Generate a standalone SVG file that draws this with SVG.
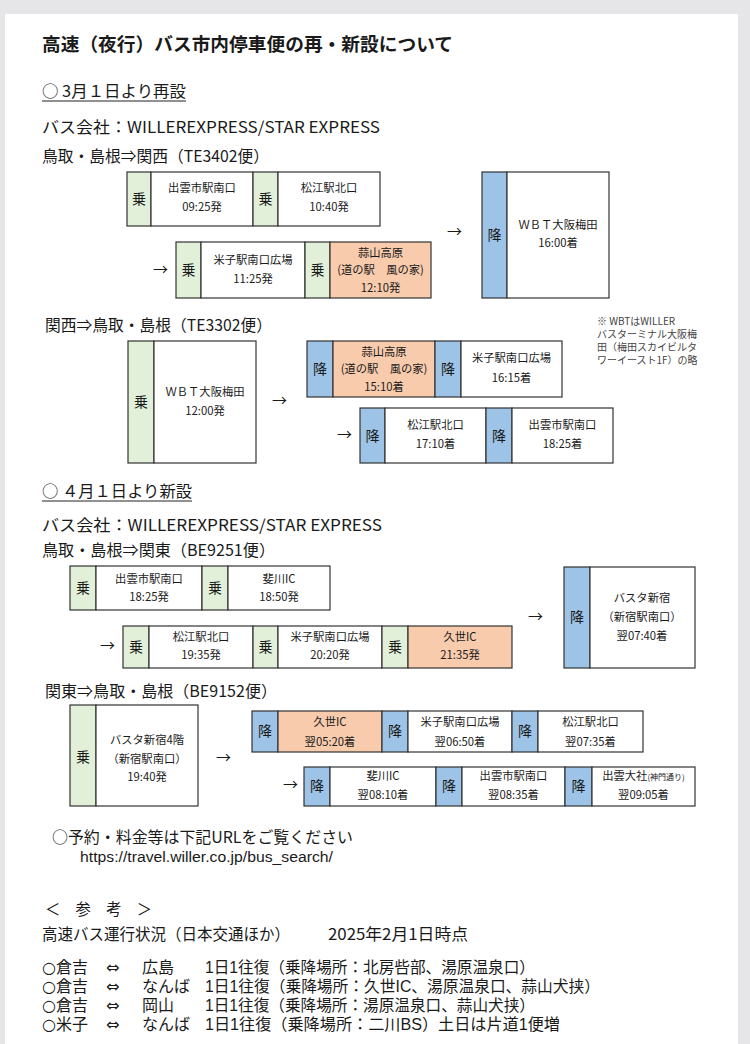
<svg xmlns="http://www.w3.org/2000/svg" width="750" height="1044" viewBox="0 0 750 1044">
<style>
text{font-family:"Noto Sans CJK JP","Noto Sans",sans-serif;fill:#1a1a1a}
.h{font-size:18.5px;font-weight:bold}
.m{font-size:16px}
.f{font-size:16px}
.r{font-family:"Liberation Sans","Noto Sans CJK JP",sans-serif;font-size:16px}
.d{font-family:"DejaVu Sans",sans-serif}
.b{font-size:11.3px;text-anchor:middle}
.k{font-size:14px;text-anchor:middle}
.n{font-size:10px;fill:#444}
.a{font-size:15px}
.u{font-family:"Liberation Sans",sans-serif;font-size:14px}
rect.s{stroke:#333;stroke-width:1.2}
.w{fill:#fff}
.g{fill:#E2F0D9}
.bl{fill:#9DC3E6}
.o{fill:#F8CBAD}
</style>
<rect width="750" height="1044" fill="#e6e6e8"/>
<rect x="5" y="14" width="733" height="1030" fill="#fff"/>

<g id="headings">
<text x="42" y="51" class="h" textLength="411" lengthAdjust="spacingAndGlyphs">高速（夜行）バス市内停車便の再・新設について</text>
<text x="42" y="97" class="m" textLength="144" lengthAdjust="spacingAndGlyphs">○ 3月１日より再設</text>
<line x1="42" y1="101" x2="186" y2="101" stroke="#222" stroke-width="1"/>
<text x="42" y="133" class="m" textLength="338" lengthAdjust="spacingAndGlyphs">バス会社：WILLEREXPRESS/STAR EXPRESS</text>
<text x="42" y="162" class="m" textLength="227" lengthAdjust="spacingAndGlyphs">鳥取・島根⇒関西（TE3402便）</text>
<text x="45" y="331" class="m" textLength="227" lengthAdjust="spacingAndGlyphs">関西⇒鳥取・島根（TE3302便）</text>
<text class="n"><tspan x="597" y="325">※ WBTはWILLER</tspan><tspan x="597" y="338">バスターミナル大阪梅</tspan><tspan x="597" y="351">田（梅田スカイビルタ</tspan><tspan x="597" y="364">ワーイースト1F）の略</tspan></text>
<text x="42" y="497" class="m" textLength="150" lengthAdjust="spacingAndGlyphs">○ ４月１日より新設</text>
<line x1="42" y1="501" x2="192" y2="501" stroke="#222" stroke-width="1"/>
<text x="42" y="531" class="m" textLength="340" lengthAdjust="spacingAndGlyphs">バス会社：WILLEREXPRESS/STAR EXPRESS</text>
<text x="42" y="556" class="m" textLength="233" lengthAdjust="spacingAndGlyphs">鳥取・島根⇒関東（BE9251便）</text>
<text x="45" y="697" class="m" textLength="232" lengthAdjust="spacingAndGlyphs">関東⇒鳥取・島根（BE9152便）</text>
</g>

<g id="connectors">
<text x="153" y="275" class="a">→</text>
<text x="447" y="237" class="a">→</text>
<text x="272" y="406" class="a">→</text>
<text x="337" y="440" class="a">→</text>
<text x="100" y="651" class="a">→</text>
<text x="528" y="622" class="a">→</text>
<text x="216" y="763" class="a">→</text>
<text x="283" y="790" class="a">→</text>
</g>

<g id="box-te3402-1">
<rect class="s g" x="127" y="172" width="24" height="54"/>
<rect class="s w" x="151" y="172" width="102" height="54"/>
<rect class="s g" x="253" y="172" width="25" height="54"/>
<rect class="s w" x="278" y="172" width="102" height="54"/>
<text class="k" x="139" y="204">乗</text>
<text class="b" x="202" y="192">出雲市駅南口</text><text class="b" x="202" y="211">09:25発</text>
<text class="k" x="265.5" y="204">乗</text>
<text class="b" x="329" y="192">松江駅北口</text><text class="b" x="329" y="211">10:40発</text>
</g>

<g id="box-te3402-2">
<rect class="s g" x="176" y="242" width="25" height="56"/>
<rect class="s w" x="201" y="242" width="104" height="56"/>
<rect class="s g" x="305" y="242" width="25" height="56"/>
<rect class="s o" x="330" y="242" width="101" height="56"/>
<text class="k" x="188.5" y="275">乗</text>
<text class="b" x="253" y="264">米子駅南口広場</text><text class="b" x="253" y="283">11:25発</text>
<text class="k" x="317.5" y="275">乗</text>
<text class="b" x="380.5" y="257">蒜山高原</text><text class="b" x="380.5" y="274">(道の駅　風の家)</text><text class="b" x="380.5" y="292">12:10発</text>
</g>

<g id="box-te3402-3">
<rect class="s bl" x="482" y="172" width="25" height="126"/>
<rect class="s w" x="507" y="172" width="102" height="126"/>
<text class="k" x="494.5" y="240">降</text>
<text class="b" x="558" y="229">ＷＢＴ大阪梅田</text><text class="b" x="558" y="247">16:00着</text>
</g>

<g id="box-te3302-1">
<rect class="s g" x="128" y="341" width="26" height="122"/>
<rect class="s w" x="154" y="341" width="102" height="122"/>
<text class="k" x="141" y="407">乗</text>
<text class="b" x="205" y="396">ＷＢＴ大阪梅田</text><text class="b" x="205" y="415">12:00発</text>
</g>

<g id="box-te3302-2">
<rect class="s bl" x="307" y="341" width="26" height="56"/>
<rect class="s o" x="333" y="341" width="102" height="56"/>
<rect class="s bl" x="435" y="341" width="26" height="56"/>
<rect class="s w" x="461" y="341" width="101" height="56"/>
<text class="k" x="320" y="374">降</text>
<text class="b" x="384" y="356">蒜山高原</text><text class="b" x="384" y="373">(道の駅　風の家)</text><text class="b" x="384" y="391">15:10着</text>
<text class="k" x="448" y="374">降</text>
<text class="b" x="511.5" y="362">米子駅南口広場</text><text class="b" x="511.5" y="382">16:15着</text>
</g>

<g id="box-te3302-3">
<rect class="s bl" x="360" y="408" width="25" height="55"/>
<rect class="s w" x="385" y="408" width="101" height="55"/>
<rect class="s bl" x="486" y="408" width="26" height="55"/>
<rect class="s w" x="512" y="408" width="101" height="55"/>
<text class="k" x="372.5" y="441">降</text>
<text class="b" x="435.5" y="429">松江駅北口</text><text class="b" x="435.5" y="448">17:10着</text>
<text class="k" x="499" y="441">降</text>
<text class="b" x="562.5" y="429">出雲市駅南口</text><text class="b" x="562.5" y="448">18:25着</text>
</g>

<g id="box-be9251-1">
<rect class="s g" x="70" y="566" width="26" height="44"/>
<rect class="s w" x="96" y="566" width="106" height="44"/>
<rect class="s g" x="202" y="566" width="26" height="44"/>
<rect class="s w" x="228" y="566" width="102" height="44"/>
<text class="k" x="83" y="593">乗</text>
<text class="b" x="149" y="583">出雲市駅南口</text><text class="b" x="149" y="601">18:25発</text>
<text class="k" x="215" y="593">乗</text>
<text class="b" x="279" y="583">斐川IC</text><text class="b" x="279" y="601">18:50発</text>
</g>

<g id="box-be9251-2">
<rect class="s g" x="123" y="626" width="26" height="42"/>
<rect class="s w" x="149" y="626" width="104" height="42"/>
<rect class="s g" x="253" y="626" width="25" height="42"/>
<rect class="s w" x="278" y="626" width="104" height="42"/>
<rect class="s g" x="382" y="626" width="26" height="42"/>
<rect class="s o" x="408" y="626" width="104" height="42"/>
<text class="k" x="136" y="652">乗</text>
<text class="b" x="201" y="641">松江駅北口</text><text class="b" x="201" y="659">19:35発</text>
<text class="k" x="265.5" y="652">乗</text>
<text class="b" x="330" y="641">米子駅南口広場</text><text class="b" x="330" y="659">20:20発</text>
<text class="k" x="395" y="652">乗</text>
<text class="b" x="460" y="641">久世IC</text><text class="b" x="460" y="659">21:35発</text>
</g>

<g id="box-be9251-3">
<rect class="s bl" x="564" y="567" width="26" height="101"/>
<rect class="s w" x="590" y="567" width="105" height="101"/>
<text class="k" x="577" y="622">降</text>
<text class="b" x="642" y="602">バスタ新宿</text><text class="b" x="642" y="621">（新宿駅南口）</text><text class="b" x="642" y="640">翌07:40着</text>
</g>

<g id="box-be9152-1">
<rect class="s g" x="70" y="705" width="26" height="101"/>
<rect class="s w" x="96" y="705" width="102" height="101"/>
<text class="k" x="83" y="762">乗</text>
<text class="b" x="147" y="744">バスタ新宿4階</text><text class="b" x="147" y="763">（新宿駅南口）</text><text class="b" x="147" y="781">19:40発</text>
</g>

<g id="box-be9152-2">
<rect class="s bl" x="252" y="711" width="26" height="41"/>
<rect class="s o" x="278" y="711" width="104" height="41"/>
<rect class="s bl" x="382" y="711" width="26" height="41"/>
<rect class="s w" x="408" y="711" width="104" height="41"/>
<rect class="s bl" x="512" y="711" width="26" height="41"/>
<rect class="s w" x="538" y="711" width="105" height="41"/>
<text class="k" x="265" y="736">降</text>
<text class="b" x="330" y="726">久世IC</text><text class="b" x="330" y="746">翌05:20着</text>
<text class="k" x="395" y="736">降</text>
<text class="b" x="460" y="726">米子駅南口広場</text><text class="b" x="460" y="746">翌06:50着</text>
<text class="k" x="525" y="736">降</text>
<text class="b" x="590.5" y="726">松江駅北口</text><text class="b" x="590.5" y="746">翌07:35着</text>
</g>

<g id="box-be9152-3">
<rect class="s bl" x="304" y="767" width="26" height="39"/>
<rect class="s w" x="330" y="767" width="106" height="39"/>
<rect class="s bl" x="436" y="767" width="26" height="39"/>
<rect class="s w" x="462" y="767" width="103" height="39"/>
<rect class="s bl" x="565" y="767" width="27" height="39"/>
<rect class="s w" x="592" y="767" width="103" height="39"/>
<text class="k" x="317" y="791">降</text>
<text class="b" x="383" y="780">斐川IC</text><text class="b" x="383" y="799">翌08:10着</text>
<text class="k" x="449" y="791">降</text>
<text class="b" x="513.5" y="780">出雲市駅南口</text><text class="b" x="513.5" y="799">翌08:35着</text>
<text class="k" x="578.5" y="791">降</text>
<text class="b" x="643.5" y="780">出雲大社<tspan font-size="8">(神門通り)</tspan></text><text class="b" x="643.5" y="799">翌09:05着</text>
</g>

<g id="footer">
<text x="52" y="843" class="f" textLength="301" lengthAdjust="spacingAndGlyphs">○予約・料金等は下記URLをご覧ください</text>
<text x="80" y="862" class="u" textLength="253" lengthAdjust="spacingAndGlyphs">https://travel.willer.co.jp/bus_search/</text>
<text x="45" y="915" class="f" textLength="107" lengthAdjust="spacingAndGlyphs">＜　参　考　＞</text>
<text x="42" y="940" class="f" textLength="248" lengthAdjust="spacingAndGlyphs">高速バス運行状況（日本交通ほか）</text>
<text x="328" y="940" class="f" textLength="140" lengthAdjust="spacingAndGlyphs">2025年2月1日時点</text>
<text class="r" y="973"><tspan x="42" class="d">○</tspan><tspan x="56">倉吉</tspan><tspan x="106" class="d">⇔</tspan><tspan x="142">広島</tspan><tspan x="205" textLength="330" lengthAdjust="spacingAndGlyphs">1日1往復（乗降場所：北房呰部、湯原温泉口）</tspan></text>
<text class="r" y="992"><tspan x="42" class="d">○</tspan><tspan x="56">倉吉</tspan><tspan x="106" class="d">⇔</tspan><tspan x="142">なんば</tspan><tspan x="205" textLength="395" lengthAdjust="spacingAndGlyphs">1日1往復（乗降場所：久世IC、湯原温泉口、蒜山犬挟）</tspan></text>
<text class="r" y="1011"><tspan x="42" class="d">○</tspan><tspan x="56">倉吉</tspan><tspan x="106" class="d">⇔</tspan><tspan x="142">岡山</tspan><tspan x="205" textLength="330" lengthAdjust="spacingAndGlyphs">1日1往復（乗降場所：湯原温泉口、蒜山犬挟）</tspan></text>
<text class="r" y="1030"><tspan x="42" class="d">○</tspan><tspan x="56">米子</tspan><tspan x="106" class="d">⇔</tspan><tspan x="142">なんば</tspan><tspan x="205" textLength="355" lengthAdjust="spacingAndGlyphs">1日1往復（乗降場所：二川BS）土日は片道1便増</tspan></text>
</g>
</svg>
